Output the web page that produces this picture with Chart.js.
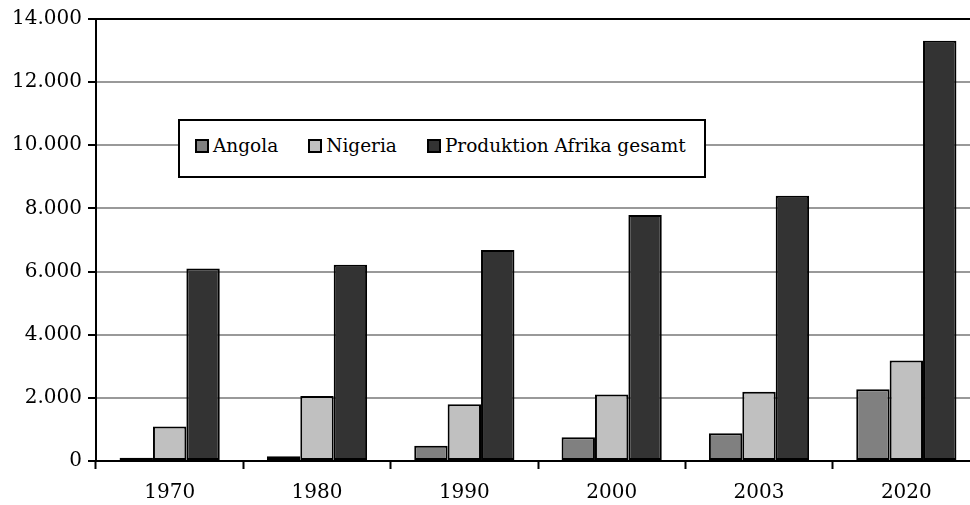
<!DOCTYPE html>
<html>
<head>
<meta charset="utf-8">
<script src="https://cdn.jsdelivr.net/npm/chart.js@4/dist/chart.umd.min.js"></script>
<style>
  html, body { margin:0; padding:0; background:#fff; overflow:hidden; width:970px; height:505px; }
  #wrap { position:relative; width:985px; height:505px; }
  #legend { position:absolute; left:178px; top:119px; width:509px; height:55px; border:2px solid #000; background:#fff;
            display:flex; align-items:center; padding-left:15px; box-sizing:content-box; font-family:"DejaVu Serif", serif; font-size:18.5px; color:#000; white-space:nowrap; }
  #legend .item { display:flex; align-items:center; margin-top:-6px; }
  #legend .item + .item { margin-left:30px; }
  #legend .sw { width:10px; height:10px; border:2px solid #000; margin-right:4px; flex:none; }
</style>
</head>
<body>
<div id="wrap">
  <canvas id="c" width="985" height="505" style="width:985px;height:505px"></canvas>
  <div id="legend"></div>
</div>
<script>
const categories = ["1970", "1980", "1990", "2000", "2003", "2020"];
const seriesNames = ["Angola", "Nigeria", "Produktion Afrika gesamt"];
const angola = [100, 150, 480, 750, 880, 2270];
const nigeria = [1090, 2060, 1800, 2110, 2190, 3180];
const afrika = [6100, 6220, 6680, 7790, 8400, 13310];
const yTicks = [0, 2000, 4000, 6000, 8000, 10000, 12000, 14000];
const colors = ["#808080", "#c0c0c0", "#333333"];

const FONT = { family: "DejaVu Serif", size: 20 };
const values = [angola, nigeria, afrika];

const chart = new Chart(document.getElementById('c'), {
  type: 'bar',
  data: {
    labels: categories,
    datasets: seriesNames.map((n, i) => ({
      label: n,
      data: values[i],
      backgroundColor: colors[i],
      borderColor: '#000',
      borderWidth: 2,
      borderSkipped: false,
      categoryPercentage: 0.68,
      barPercentage: 1.0
    }))
  },
  options: {
    responsive: false,
    animation: false,
    locale: 'de-DE',
    layout: { padding: { left: 0, top: 19, right: 5, bottom: 0 } },
    plugins: { legend: { display: false }, tooltip: { enabled: false } },
    scales: {
      x: {
        grid: { offset: true, drawOnChartArea: false, tickLength: 8, tickColor: '#000', tickWidth: 2 },
        border: { display: true, color: '#000', width: 2 },
        ticks: { color: '#000', font: FONT, padding: 12 },
        afterFit: (s) => { s.height = 44; }
      },
      y: {
        min: 0, max: 14000,
        afterBuildTicks: (s) => { s.ticks = yTicks.map(v => ({ value: v })); },
        grid: {
          color: (ctx) => (ctx.tick && ctx.tick.value === 14000) ? '#000' : '#999999',
          lineWidth: 2,
          tickLength: 8,
          tickColor: '#000',
          tickWidth: 2
        },
        border: { display: true, color: '#000', width: 2 },
        ticks: {
          color: '#000', font: FONT, padding: 6,
          callback: (v) => Number(v).toLocaleString('de-DE')
        },
        afterFit: (s) => { s.width = 96; }
      }
    }
  }
});

const leg = document.getElementById('legend');
seriesNames.forEach((n, i) => {
  const it = document.createElement('div');
  it.className = 'item';
  const sw = document.createElement('span');
  sw.className = 'sw';
  sw.style.background = colors[i];
  const tx = document.createElement('span');
  tx.textContent = n;
  it.appendChild(sw); it.appendChild(tx);
  leg.appendChild(it);
});
</script>
</body>
</html>
